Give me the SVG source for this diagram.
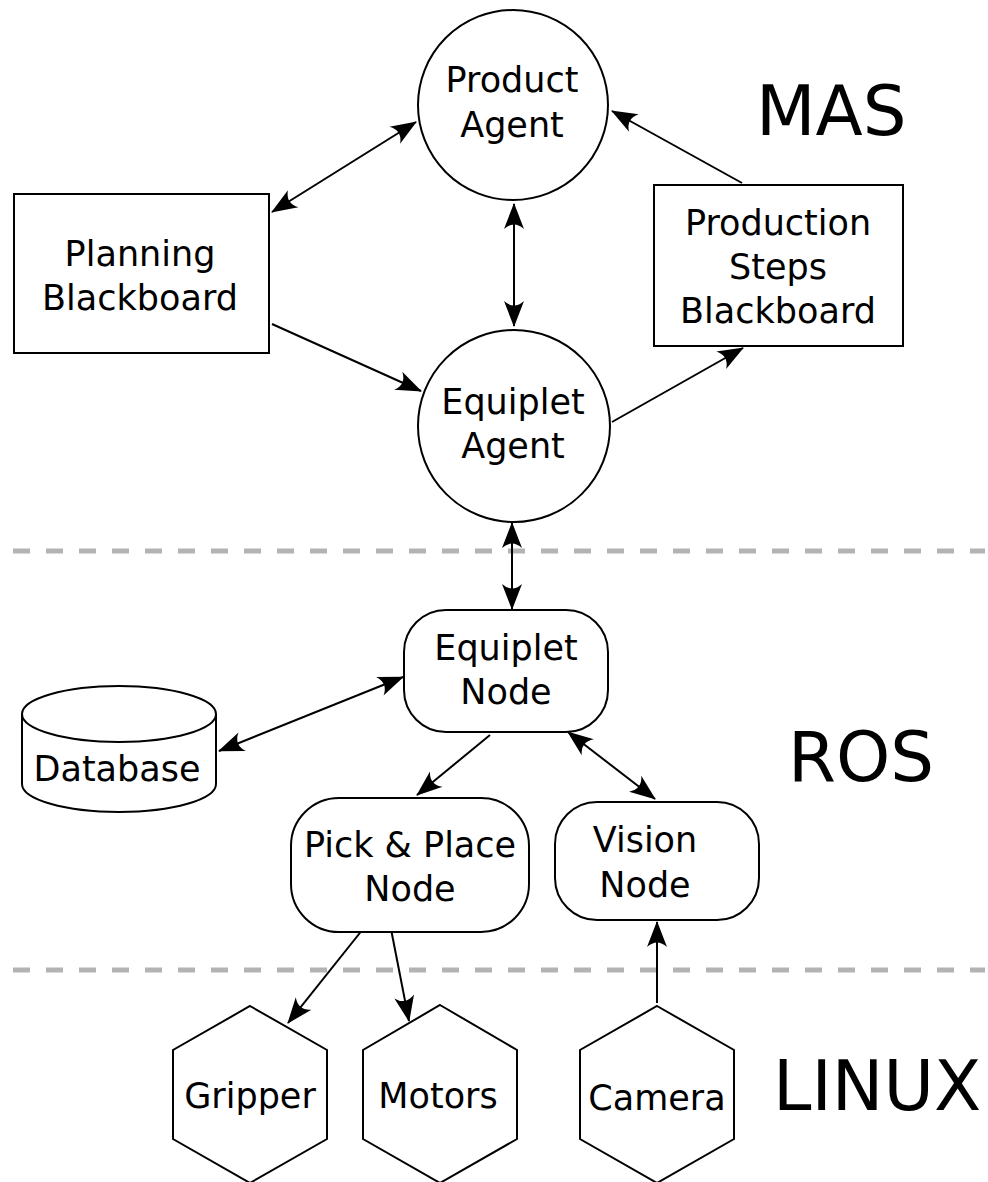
<svg xmlns="http://www.w3.org/2000/svg" width="988" height="1182" viewBox="0 0 988 1182">
  <style>
    .shape { fill: #fff; stroke: #000; stroke-width: 2; }
    .lbl { font-family: "DejaVu Sans", sans-serif; font-size: 35px; text-anchor: middle; fill: #000; }
    .layer { font-family: "DejaVu Sans", sans-serif; font-size: 69px; fill: #000; }
    .sep { stroke: #b3b3b3; stroke-width: 5; stroke-dasharray: 17 16; fill: none; }
    .link { stroke: #000; stroke-width: 2; fill: none; }
    .one { marker-end: url(#head); }
    .two { marker-start: url(#head); marker-end: url(#head); }
  </style>
  <defs>
    <marker id="head" markerUnits="userSpaceOnUse" viewBox="-26 -10 28 20" refX="0" refY="0" markerWidth="28" markerHeight="20" orient="auto-start-reverse" overflow="visible">
      <path d="M1,0 L-25,-10 Q-16,0 -25,10 Z" fill="#000"/>
    </marker>
  </defs>
  <rect width="988" height="1182" fill="#fff"/>

  <!-- layer separators -->
  <line class="sep" x1="13" y1="551" x2="985" y2="551"/>
  <line class="sep" x1="13" y1="970" x2="985" y2="970"/>

  <!-- layer names -->
  <text class="layer" x="756" y="135">MAS</text>
  <text class="layer" x="788" y="781">ROS</text>
  <text class="layer" x="773" y="1110">LINUX</text>

  <!-- connectors -->
  <g id="connectors">
    <line class="link two" x1="272" y1="212" x2="416" y2="122"/>
    <line class="link two" x1="514" y1="204" x2="514" y2="326"/>
    <line class="link one" x1="742" y1="183" x2="612" y2="111"/>
    <line class="link one" x1="272" y1="324" x2="421" y2="391"/>
    <line class="link one" x1="612" y1="422" x2="743" y2="348"/>
    <line class="link two" x1="512" y1="523" x2="512" y2="609"/>
    <line class="link two" x1="403" y1="677" x2="219" y2="751"/>
    <line class="link one" x1="490" y1="735" x2="417" y2="795"/>
    <line class="link two" x1="568" y1="732" x2="655" y2="799"/>
    <line class="link one" x1="367" y1="924" x2="288" y2="1023"/>
    <line class="link one" x1="390" y1="924" x2="409" y2="1021"/>
    <line class="link one" x1="657" y1="1003" x2="657" y2="922"/>
  </g>

  <!-- MAS layer -->
  <g id="product-agent">
    <circle class="shape" cx="513" cy="105" r="95"/>
    <text class="lbl" x="512" y="92">Product</text>
    <text class="lbl" x="512" y="137">Agent</text>
  </g>
  <g id="planning-blackboard">
    <rect class="shape" x="14" y="194" width="255" height="159"/>
    <text class="lbl" x="140" y="266">Planning</text>
    <text class="lbl" x="140" y="310">Blackboard</text>
  </g>
  <g id="production-steps-blackboard">
    <rect class="shape" x="654" y="185" width="249" height="161"/>
    <text class="lbl" x="778" y="235">Production</text>
    <text class="lbl" x="778" y="279">Steps</text>
    <text class="lbl" x="778" y="323">Blackboard</text>
  </g>
  <g id="equiplet-agent">
    <circle class="shape" cx="514" cy="426" r="96"/>
    <text class="lbl" x="513" y="414">Equiplet</text>
    <text class="lbl" x="513" y="458">Agent</text>
  </g>

  <!-- ROS layer -->
  <g id="equiplet-node">
    <rect class="shape" x="404" y="610" width="204" height="122" rx="42" ry="42"/>
    <text class="lbl" x="506" y="660">Equiplet</text>
    <text class="lbl" x="506" y="704">Node</text>
  </g>
  <g id="database">
    <path class="shape" d="M22,714 L22,784 A97,28 0 0 0 216,784 L216,714"/>
    <ellipse class="shape" cx="119" cy="714" rx="97" ry="28"/>
    <text class="lbl" x="117" y="781">Database</text>
  </g>
  <g id="pick-place-node">
    <rect class="shape" x="291" y="798" width="238" height="134" rx="48" ry="48"/>
    <text class="lbl" x="410" y="857">Pick &amp; Place</text>
    <text class="lbl" x="410" y="901">Node</text>
  </g>
  <g id="vision-node">
    <rect class="shape" x="555" y="802" width="204" height="118" rx="42" ry="42"/>
    <text class="lbl" x="645" y="852">Vision</text>
    <text class="lbl" x="645" y="897">Node</text>
  </g>

  <!-- LINUX layer -->
  <g id="gripper">
    <polygon class="shape" points="250,1006 327,1050 327,1139 250,1183 173,1139 173,1050"/>
    <text class="lbl" x="250" y="1108">Gripper</text>
  </g>
  <g id="motors">
    <polygon class="shape" points="440,1005 517,1050 517,1139 440,1183 363,1139 363,1050"/>
    <text class="lbl" x="438" y="1108">Motors</text>
  </g>
  <g id="camera">
    <polygon class="shape" points="657,1006 734,1050 734,1139 657,1183 580,1139 580,1050"/>
    <text class="lbl" x="657" y="1110">Camera</text>
  </g>
</svg>
